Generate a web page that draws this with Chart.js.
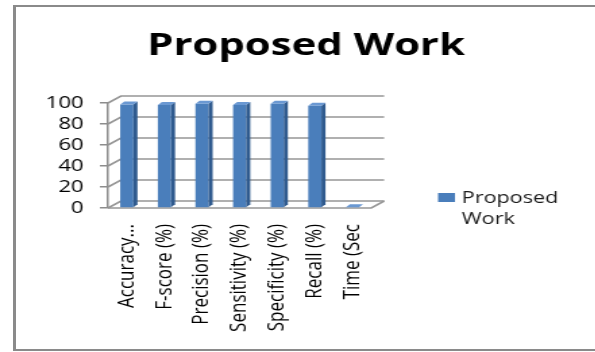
<!DOCTYPE html>
<html>
<head>
<meta charset="utf-8">
<script src="https://cdn.jsdelivr.net/npm/chart.js@4.4.0/dist/chart.umd.min.js"></script>
<style>
html,body{margin:0;padding:0;background:#fff;overflow:hidden;width:595px;height:352px;}
#frame{position:absolute;left:13px;top:5px;width:600px;height:342px;border-top:2px solid #8a8a8a;border-bottom:2px solid #8a8a8a;border-left:3px solid #8a8a8a;}
#wrap{position:absolute;left:0;top:0;width:441px;height:352px;transform:scale(1.35,1);transform-origin:0 0;}
</style>
</head>
<body>
<div id="frame"></div>
<div id="wrap"><canvas id="c" width="441" height="352"></canvas></div>
<script>
const categories = ['Accuracy...', 'F-score (%)', 'Precision (%)', 'Sensitivity (%)', 'Specificity (%)', 'Recall (%)', 'Time (Sec'];
const proposedWork = [98.6, 98.2, 99.4, 98.2, 99.4, 97.3, 0.8];
const seriesName = 'Proposed Work';
const chartTitle = 'Proposed Work';
const yTicks = [0, 20, 40, 60, 80, 100];

const FONT = '"Open Sans", "DejaVu Sans", sans-serif';
const DX = 9.6, DY = 7;     // depth of the 3D walls
const BDX = 3, BDY = 3;     // depth of the 3D bars

const walls = {
  id: 'walls',
  beforeDatasetsDraw(chart) {
    const {ctx, chartArea: {left, right}, scales: {y}} = chart;
    ctx.save();
    ctx.strokeStyle = '#969696';
    ctx.lineWidth = 1.6;
    yTicks.forEach(v => {
      const py = y.getPixelForValue(v);
      ctx.beginPath();
      ctx.moveTo(left, py);
      ctx.lineTo(left + DX, py - DY);
      ctx.lineTo(right + DX, py - DY);
      ctx.stroke();
    });
    const p0 = y.getPixelForValue(0);
    ctx.beginPath();
    ctx.moveTo(left, p0);
    ctx.lineTo(right, p0);
    ctx.lineTo(right + DX, p0 - DY);
    ctx.stroke();
    ctx.restore();
  }
};

const bars3d = {
  id: 'bars3d',
  afterDatasetsDraw(chart) {
    const ctx = chart.ctx;
    ctx.save();
    chart.getDatasetMeta(0).data.forEach(b => {
      const {x, y, base, width} = b.getProps(['x', 'y', 'base', 'width'], true);
      const l = x - width / 2, r = x + width / 2;
      ctx.fillStyle = '#2f5a8e';
      ctx.beginPath();
      ctx.moveTo(r, y); ctx.lineTo(r + BDX, y - BDY); ctx.lineTo(r + BDX, base - BDY); ctx.lineTo(r, base);
      ctx.closePath(); ctx.fill();
      ctx.fillStyle = '#6a98d2';
      ctx.beginPath();
      ctx.moveTo(l, y); ctx.lineTo(l + BDX, y - BDY); ctx.lineTo(r + BDX, y - BDY); ctx.lineTo(r, y);
      ctx.closePath(); ctx.fill();
    });
    ctx.restore();
  }
};

const overlay = {
  id: 'overlay',
  afterDraw(chart) {
    const ctx = chart.ctx;
    ctx.save();
    ctx.fillStyle = '#000';
    ctx.font = 'bold 31px ' + FONT;
    ctx.textAlign = 'center';
    ctx.textBaseline = 'alphabetic';
    ctx.fillText(chartTitle, 226.7, 55);
    // legend
    const ds = chart.data.datasets[0];
    ctx.fillStyle = ds.backgroundColor;
    ctx.fillRect(324.5, 193, 12.5, 9);
    ctx.fillStyle = '#1a1a1a';
    ctx.font = '16px ' + FONT;
    ctx.textAlign = 'left';
    const words = ds.label.split(' ');
    ctx.fillText(words[0], 342, 203);
    ctx.fillText(words.slice(1).join(' '), 342, 224);
    ctx.restore();
  }
};

new Chart(document.getElementById('c'), {
  type: 'bar',
  data: {
    labels: categories,
    datasets: [{
      label: seriesName,
      data: proposedWork,
      backgroundColor: '#4a7ebb',
      barPercentage: 0.7,
      categoryPercentage: 0.5
    }]
  },
  options: {
    responsive: false,
    animation: false,
    devicePixelRatio: 1,
    layout: {padding: {top: 103, right: 166, bottom: 0, left: 0}},
    plugins: {legend: {display: false}, title: {display: false}, tooltip: {enabled: false}},
    scales: {
      x: {
        grid: {display: false, drawTicks: false},
        border: {display: false},
        ticks: {autoSkip: false, maxRotation: 90, minRotation: 90, padding: 16, color: '#000', font: {family: FONT, size: 17}},
        afterFit(s) { s.height = 144; }
      },
      y: {
        min: 0, max: 100,
        afterBuildTicks(s) { s.ticks = yTicks.map(v => ({value: v})); },
        ticks: {autoSkip: false, padding: 12, color: '#000', font: {family: FONT, size: 16.5}},
        grid: {drawOnChartArea: false, drawTicks: true, tickLength: 6, color: '#8c8c8c', lineWidth: 1.5},
        border: {display: true, color: '#8c8c8c', width: 1.5},
        afterFit(s) { s.width = 80; }
      }
    }
  },
  plugins: [walls, bars3d, overlay]
});
</script>
</body>
</html>
